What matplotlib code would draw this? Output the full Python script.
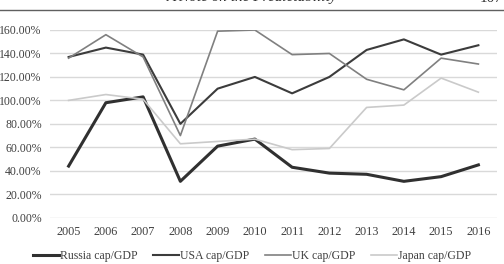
import matplotlib
matplotlib.use('Agg')
import matplotlib.pyplot as plt
from matplotlib.lines import Line2D
from matplotlib.ticker import FuncFormatter

plt.rcParams['font.family'] = ['Liberation Serif', 'DejaVu Serif']

years = ['2005', '2006', '2007', '2008', '2009', '2010',
         '2011', '2012', '2013', '2014', '2015', '2016']
russia = [44, 98, 103, 31, 61, 67, 43, 38, 37, 31, 35, 45]
usa = [137, 145, 139, 80, 110, 120, 106, 120, 143, 152, 139, 147]
uk = [136, 156, 137, 70, 159, 160, 139, 140, 118, 109, 136, 131]
japan = [100, 105, 101, 63, 65, 67, 58, 59, 94, 96, 119, 107]

series = [
    ('Russia cap/GDP', russia, '#303030', 2.2),
    ('USA cap/GDP', usa, '#3c3c3c', 1.5),
    ('UK cap/GDP', uk, '#808080', 1.2),
    ('Japan cap/GDP', japan, '#cacaca', 1.2),
]

fig = plt.figure(figsize=(5.04, 2.64), dpi=100)
ax = fig.add_axes([50 / 504, 46.3 / 264, 447 / 504, (217.7 - 30) / 264])

x = range(len(years))
for label, vals, color, lw in series:
    ax.plot(x, vals, color=color, lw=lw, label=label, zorder=3)

ax.set_xlim(-0.5, len(years) - 0.5)
ax.set_ylim(0, 160)
ax.set_yticks(range(0, 161, 20))
ax.yaxis.set_major_formatter(FuncFormatter(lambda v, p: '%.2f%%' % v))
ax.set_xticks(list(x))
ax.set_xticklabels(years)
ax.grid(axis='y', color='#d9d9d9', lw=1)
ax.set_axisbelow(True)
for s in ax.spines.values():
    s.set_visible(False)
ax.tick_params(length=0, colors='#404040')
ax.tick_params(axis='y', pad=6, labelsize=8.5)
ax.tick_params(axis='x', pad=6, labelsize=8.8)

handles = [Line2D([], [], color=c, lw=lw) for _, _, c, lw in series]
fig.legend(handles, [s[0] for s in series], loc='center',
           bbox_to_anchor=(0.5, 8 / 264), ncol=4, frameon=False,
           fontsize=8.5, handlelength=2.2, handletextpad=0.1,
           columnspacing=1.3, labelcolor='#404040')

# page header, cut off at the top
fig.text(0.5, 1 - 1.5 / 264, 'A Note on the Predictability', ha='center',
         va='baseline', style='italic', fontsize=11, color='#303030')
fig.text(0.952, 1 - 1.5 / 264, '107', ha='left', va='baseline',
         fontsize=11, color='#303030')
fig.add_artist(Line2D([0, 1], [1 - 10 / 264, 1 - 10 / 264],
                      transform=fig.transFigure, color='#606060', lw=1))

fig.savefig('out.png', dpi=100)
